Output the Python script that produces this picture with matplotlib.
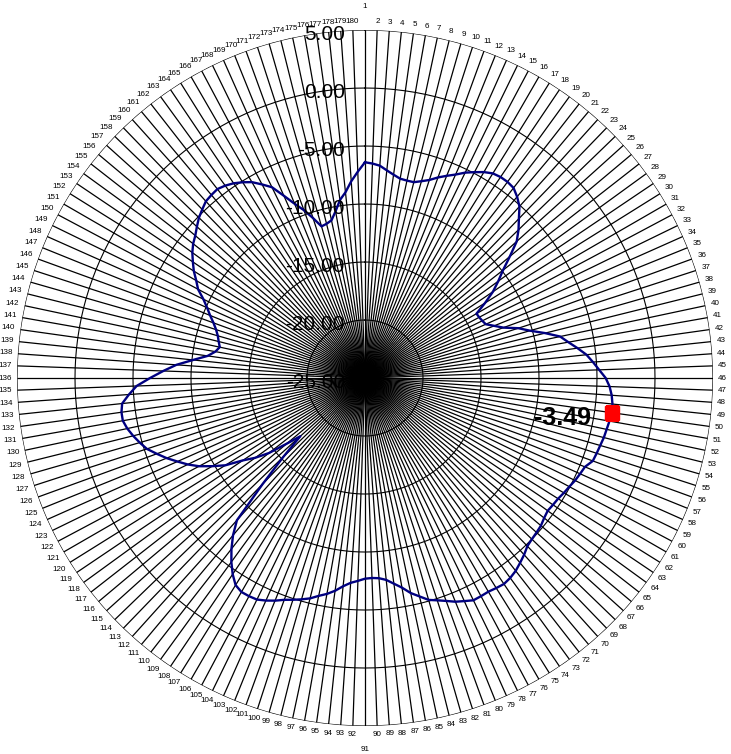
import numpy as np
import matplotlib.pyplot as plt
from matplotlib.transforms import offset_copy

plt.rcParams['font.family'] = ['Liberation Sans', 'DejaVu Sans']

# 180 categories around the radar, numbered clockwise from the top
categories = [str(i) for i in range(1, 181)]

ring_levels = [-25, -20, -15, -10, -5, 0, 5]
ring_labels = ["-25.00", "-20.00", "-15.00", "-10.00", "-5.00", "0.00", "5.00"]

values = [
    -6.4, -6.5, -6.65, -7.0, -7.3, -7.55, -7.6, -7.6, -7.35, -7.05,
    -6.6, -6.2, -5.8, -5.3, -4.9, -4.5, -4.2, -4.1, -4.1, -4.2,
    -4.6, -5.1, -5.9, -6.6, -7.4, -8.7, -9.9, -10.8, -11.7, -12.8,
    -13.9, -13.85, -13.75, -13.6, -13.0, -12.3, -11.1, -10.2, -9.0, -7.8,
    -7.2, -6.5, -5.8, -5.3, -4.8, -4.25, -3.9, -3.68, -3.55, -3.49,
    -3.6, -3.7, -3.78, -3.9, -4.0, -4.1, -4.55, -4.7, -4.85, -5.05,
    -5.2, -5.37, -5.45, -5.53, -5.4, -5.2, -5.1, -5.0, -4.85, -4.5,
    -4.2, -3.9, -3.7, -3.58, -3.65, -3.73, -3.7, -3.68, -3.95, -4.2,
    -4.55, -4.85, -5.1, -5.6, -6.05, -6.65, -7.1, -7.5, -7.7, -7.75,
    -7.7, -7.5, -7.3, -6.95, -6.48, -6.1, -5.8, -5.42, -5.15, -4.9,
    -4.65, -4.3, -4.0, -3.75, -3.7, -3.7, -3.95, -4.6, -5.4, -6.3,
    -7.3, -8.5, -12.3, -15.2, -17.5, -16.2, -14.5, -13.3, -12.3, -10.8,
    -9.8, -8.8, -8.0, -7.3, -6.56, -5.9, -5.23, -4.8, -4.4, -4.05,
    -3.8, -3.8, -3.95, -4.6, -5.3, -6.47, -7.6, -8.7, -10.1, -11.3,
    -11.9, -12.2, -12.0, -11.8, -11.5, -11.1, -10.6, -10.1, -9.5, -8.7,
    -8.2, -7.6, -7.1, -6.6, -6.2, -5.9, -5.5, -5.1, -4.8, -4.5,
    -4.4, -4.33, -4.5, -4.75, -5.1, -5.5, -6.1, -6.7, -7.8, -8.8,
    -9.6, -10.5, -11.4, -11.3, -11.1, -10.4, -9.5, -8.9, -8.0, -7.2,
]

marked = 49  # category 50 gets the red marker and value label

n = len(categories)
theta = 2 * np.pi * np.arange(n) / n
theta_closed = np.append(theta, 2 * np.pi)

fig = plt.figure(figsize=(7.31, 7.54), dpi=100)
ax = fig.add_axes([0.02326, 0.0371, 0.9521, 0.9231], projection='polar')
ax.set_theta_zero_location('N')
ax.set_theta_direction(-1)
ax.set_ylim(ring_levels[0], ring_levels[-1])
ax.set_xticks([])
ax.set_yticks([])
ax.grid(False)
ax.spines['polar'].set_visible(False)

# spokes and polygonal rings
ax.vlines(theta, ring_levels[0], ring_levels[-1], colors='black', linewidth=0.9, zorder=1)
for lev in ring_levels[1:]:
    ax.plot(theta_closed, [lev] * (n + 1), color='black', lw=0.8, zorder=1)

# the series
vals_closed = values + values[:1]
ax.plot(theta_closed, vals_closed, color='#000080', lw=1.7, zorder=3)
ax.plot(theta[marked], values[marked], marker='s', color='red', markersize=9.6,
        linestyle='none', zorder=4)
ax.text(theta[marked], values[marked], f"{values[marked]:.2f}",
        transform=offset_copy(ax.transData, fig=fig, x=-21, y=-5, units='dots'),
        ha='right', va='center', fontsize=18, fontweight='bold', zorder=5)

# radial value labels along the vertical axis
for lev, lab in zip(ring_levels, ring_labels):
    ax.text(0, lev, lab, transform=offset_copy(ax.transData, fig=fig, x=-20, y=-4, units='dots'),
            ha='right', va='center', fontsize=15, zorder=5)

# category labels just outside the outer ring
r_px = 348
per_px = (ring_levels[-1] - ring_levels[0]) / r_px
for i, (t, lab) in enumerate(zip(theta, categories)):
    gap = 5
    if i == 0 or i == n // 2:
        gap += 15
    half_w = len(lab) * 4.45 / 2
    half_h = 3.5
    dist = gap + half_w * abs(np.sin(t)) + half_h * abs(np.cos(t))
    ax.text(t, ring_levels[-1] + dist * per_px, lab, ha='center', va='center',
            fontsize=5.8, zorder=5)

fig.savefig('out.png', dpi=100)
